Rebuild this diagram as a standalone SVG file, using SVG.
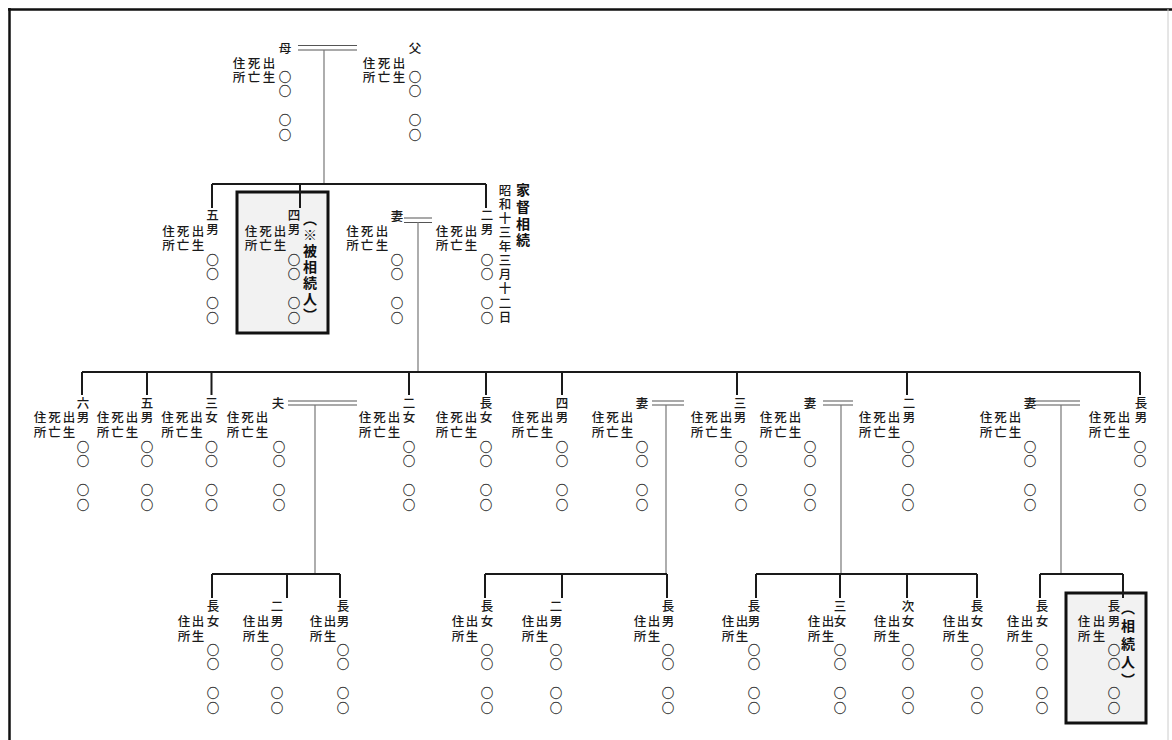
<svg xmlns="http://www.w3.org/2000/svg" width="1172" height="740" viewBox="0 0 1172 740">
<style>
.t{font-family:"Noto Sans CJK JP","Noto Sans CJK SC",sans-serif;font-size:12.5px;font-weight:500;writing-mode:vertical-rl;letter-spacing:2px;fill:#1a1a1a}
.c{font-weight:normal;fill:#333;stroke:#333;stroke-width:0.3}
.d{letter-spacing:1.6px}
.b{font-weight:bold;font-size:14px;letter-spacing:2px;fill:#111}
.ln{stroke:#1a1a1a;stroke-width:2;fill:none}
.th{stroke:#777;stroke-width:1.2;fill:none}
.mr{stroke:#555;stroke-width:1.2;fill:none}
.box{stroke:#111;stroke-width:3;fill:#f2f2f2}
.fr{stroke:#111;stroke-width:2.5;fill:none}
</style>
<rect width="1172" height="740" fill="#fff"/>
<g id="frame">
<path class="fr" d="M8 9.5H1172M9.5 8V740"/>
<path d="M1168 9V740" stroke="#ccc" stroke-width="1"/>
</g>
<g id="boxes">
<rect class="box" x="237" y="192" width="91" height="141"/>
<rect class="box" x="1066" y="593" width="80" height="130"/>
</g>
<g id="connectors">
<path class="mr" d="M298 45.5H357M298 50H357"/>
<path class="th" d="M324 50V184"/>
<path class="ln" d="M212 184H486M212 184V208M300 184V208M486 184V208"/>
<path class="mr" d="M404 218H432M404 222.5H432"/>
<path class="th" d="M418 222V372"/>
<path class="ln" d="M82 372H1140M82 372V395M147 372V395M211.5 372V395M409 372V395M486 372V395M562 372V395M737 372V395M907 372V395M1140 372V395"/>
<path class="mr" d="M288 401H357M288 405H357"/>
<path class="th" d="M315 405V574"/>
<path class="mr" d="M652 401H684M652 405H684"/>
<path class="th" d="M666 405V574"/>
<path class="mr" d="M823 401H853M823 405H853"/>
<path class="th" d="M841 405V574"/>
<path class="mr" d="M1034 401H1080M1034 405H1080"/>
<path class="th" d="M1061 405V574"/>
<path class="ln" d="M212 574H340M212 574V598M287 574V598M340 574V598"/>
<path class="ln" d="M485 574H667M485 574V598M562 574V598M667 574V598"/>
<path class="ln" d="M756 574H977M756 574V598M840 574V598M907 574V598M977 574V598"/>
<path class="ln" d="M1040 574H1123M1040 574V598M1123 574V598"/>
</g>
<!-- generation 1 -->
<g id="mother">
<text class="t" x="285" y="41.75">母</text>
<text class="t" x="269" y="56.75">出生</text><text class="t" x="254" y="56.75">死亡</text><text class="t" x="239" y="56.75">住所</text>
<text class="t c" x="285" y="70.75">○○　○○</text>
</g>
<g id="father">
<text class="t" x="415" y="41.75">父</text>
<text class="t" x="399" y="56.75">出生</text><text class="t" x="384" y="56.75">死亡</text><text class="t" x="369" y="56.75">住所</text>
<text class="t c" x="415" y="70.75">○○　○○</text>
</g>
<!-- generation 2 -->
<g id="g2-fifth-son">
<text class="t" x="212.5" y="208.75">五男</text>
<text class="t" x="198" y="224.75">出生</text><text class="t" x="183" y="224.75">死亡</text><text class="t" x="168.5" y="224.75">住所</text>
<text class="t c" x="212.5" y="253.75">○○　○○</text>
</g>
<g id="g2-fourth-son">
<text class="t" x="294" y="208.75">四男</text>
<text class="t" x="280" y="224.75">出生</text><text class="t" x="265.5" y="224.75">死亡</text><text class="t" x="251" y="224.75">住所</text>
<text class="t c" x="294" y="253.75">○○　○○</text>
<text class="t b" x="310" y="212">（※被相続人）</text>
</g>
<g id="g2-wife">
<text class="t" x="397" y="209.75">妻</text>
<text class="t" x="382" y="224.75">出生</text><text class="t" x="367" y="224.75">死亡</text><text class="t" x="352.5" y="224.75">住所</text>
<text class="t c" x="397" y="253.75">○○　○○</text>
</g>
<g id="g2-second-son">
<text class="t" x="487" y="208.75">二男</text>
<text class="t" x="471" y="224.75">出生</text><text class="t" x="456.5" y="224.75">死亡</text><text class="t" x="442" y="224.75">住所</text>
<text class="t c" x="487" y="253.75">○○　○○</text>
<text class="t d" x="505" y="183.75">昭和十三年三月十二日</text>
<text class="t b" x="523" y="183" style="letter-spacing:2.7px">家督相続</text>
</g>
<!-- generation 3 -->
<g id="g3-sixth-son">
<text class="t" x="83" y="396.75">六男</text>
<text class="t" x="69" y="411.25">出生</text><text class="t" x="54.5" y="411.25">死亡</text><text class="t" x="40" y="411.25">住所</text>
<text class="t c" x="83" y="440.75">○○　○○</text>
</g>
<g id="g3-fifth-son">
<text class="t" x="147" y="396.75">五男</text>
<text class="t" x="132" y="411.25">出生</text><text class="t" x="117.5" y="411.25">死亡</text><text class="t" x="103" y="411.25">住所</text>
<text class="t c" x="147" y="440.75">○○　○○</text>
</g>
<g id="g3-third-daughter">
<text class="t" x="211.5" y="396.75">三女</text>
<text class="t" x="196.5" y="411.25">出生</text><text class="t" x="182" y="411.25">死亡</text><text class="t" x="167.5" y="411.25">住所</text>
<text class="t c" x="211.5" y="440.75">○○　○○</text>
</g>
<g id="g3-husband">
<text class="t" x="278" y="396.75">夫</text>
<text class="t" x="262" y="411.25">出生</text><text class="t" x="247.5" y="411.25">死亡</text><text class="t" x="233" y="411.25">住所</text>
<text class="t c" x="279" y="440.75">○○　○○</text>
</g>
<g id="g3-second-daughter">
<text class="t" x="409" y="396.75">二女</text>
<text class="t" x="394" y="411.25">出生</text><text class="t" x="379.5" y="411.25">死亡</text><text class="t" x="365" y="411.25">住所</text>
<text class="t c" x="409" y="440.75">○○　○○</text>
</g>
<g id="g3-eldest-daughter">
<text class="t" x="486" y="396.75">長女</text>
<text class="t" x="471" y="411.25">出生</text><text class="t" x="456.5" y="411.25">死亡</text><text class="t" x="442" y="411.25">住所</text>
<text class="t c" x="486" y="440.75">○○　○○</text>
</g>
<g id="g3-fourth-son">
<text class="t" x="562" y="396.75">四男</text>
<text class="t" x="547" y="411.25">出生</text><text class="t" x="532.5" y="411.25">死亡</text><text class="t" x="518" y="411.25">住所</text>
<text class="t c" x="562" y="440.75">○○　○○</text>
</g>
<g id="g3-wife-a">
<text class="t" x="642" y="396.75">妻</text>
<text class="t" x="627" y="411.25">出生</text><text class="t" x="612.5" y="411.25">死亡</text><text class="t" x="598" y="411.25">住所</text>
<text class="t c" x="642" y="440.75">○○　○○</text>
</g>
<g id="g3-third-son">
<text class="t" x="740" y="396.75">三男</text>
<text class="t" x="726" y="411.25">出生</text><text class="t" x="711.5" y="411.25">死亡</text><text class="t" x="697" y="411.25">住所</text>
<text class="t c" x="741" y="440.75">○○　○○</text>
</g>
<g id="g3-wife-b">
<text class="t" x="810" y="396.75">妻</text>
<text class="t" x="795" y="411.25">出生</text><text class="t" x="780.5" y="411.25">死亡</text><text class="t" x="766" y="411.25">住所</text>
<text class="t c" x="810" y="440.75">○○　○○</text>
</g>
<g id="g3-second-son">
<text class="t" x="909" y="396.75">二男</text>
<text class="t" x="894" y="411.25">出生</text><text class="t" x="879.5" y="411.25">死亡</text><text class="t" x="865" y="411.25">住所</text>
<text class="t c" x="908" y="440.75">○○　○○</text>
</g>
<g id="g3-wife-c">
<text class="t" x="1030" y="396.75">妻</text>
<text class="t" x="1015" y="411.25">出生</text><text class="t" x="1000.5" y="411.25">死亡</text><text class="t" x="986" y="411.25">住所</text>
<text class="t c" x="1030" y="440.75">○○　○○</text>
</g>
<g id="g3-eldest-son">
<text class="t" x="1141" y="396.75">長男</text>
<text class="t" x="1124" y="411.25">出生</text><text class="t" x="1109.5" y="411.25">死亡</text><text class="t" x="1095" y="411.25">住所</text>
<text class="t c" x="1140" y="440.75">○○　○○</text>
</g>
<!-- generation 4 -->
<g id="g4-a1">
<text class="t" x="213" y="600.25">長女</text>
<text class="t" x="198" y="615.25">出生</text><text class="t" x="184" y="615.25">住所</text>
<text class="t c" x="213" y="643.75">○○　○○</text>
</g>
<g id="g4-a2">
<text class="t" x="277" y="600.25">二男</text>
<text class="t" x="263" y="615.25">出生</text><text class="t" x="249" y="615.25">住所</text>
<text class="t c" x="277" y="643.75">○○　○○</text>
</g>
<g id="g4-a3">
<text class="t" x="343" y="600.25">長男</text>
<text class="t" x="330" y="615.25">出生</text><text class="t" x="316" y="615.25">住所</text>
<text class="t c" x="343" y="643.75">○○　○○</text>
</g>
<g id="g4-b1">
<text class="t" x="487" y="600.25">長女</text>
<text class="t" x="472" y="615.25">出生</text><text class="t" x="458" y="615.25">住所</text>
<text class="t c" x="487" y="643.75">○○　○○</text>
</g>
<g id="g4-b2">
<text class="t" x="556" y="600.25">二男</text>
<text class="t" x="542" y="615.25">出生</text><text class="t" x="528" y="615.25">住所</text>
<text class="t c" x="556" y="643.75">○○　○○</text>
</g>
<g id="g4-b3">
<text class="t" x="668" y="600.25">長男</text>
<text class="t" x="654" y="615.25">出生</text><text class="t" x="640" y="615.25">住所</text>
<text class="t c" x="668" y="643.75">○○　○○</text>
</g>
<g id="g4-c1">
<text class="t" x="754" y="600.25">長男</text>
<text class="t" x="742" y="615.25">出生</text><text class="t" x="728" y="615.25">住所</text>
<text class="t c" x="754" y="643.75">○○　○○</text>
</g>
<g id="g4-c2">
<text class="t" x="840" y="600.25">三女</text>
<text class="t" x="828" y="615.25">出生</text><text class="t" x="814" y="615.25">住所</text>
<text class="t c" x="840" y="643.75">○○　○○</text>
</g>
<g id="g4-c3">
<text class="t" x="908" y="600.25">次女</text>
<text class="t" x="894" y="615.25">出生</text><text class="t" x="880" y="615.25">住所</text>
<text class="t c" x="908" y="643.75">○○　○○</text>
</g>
<g id="g4-c4">
<text class="t" x="977" y="600.25">長女</text>
<text class="t" x="963" y="615.25">出生</text><text class="t" x="949" y="615.25">住所</text>
<text class="t c" x="977" y="643.75">○○　○○</text>
</g>
<g id="g4-d1">
<text class="t" x="1042" y="600.25">長女</text>
<text class="t" x="1027" y="615.25">出生</text><text class="t" x="1013" y="615.25">住所</text>
<text class="t c" x="1042" y="643.75">○○　○○</text>
</g>
<g id="g4-d2">
<text class="t" x="1114" y="600.25">長男</text>
<text class="t" x="1099" y="615.25">出生</text><text class="t" x="1084" y="615.25">住所</text>
<text class="t c" x="1114" y="643.75">○○　○○</text>
<text class="t b" x="1128" y="601" style="letter-spacing:4px">（相続人）</text>
</g>
</svg>
